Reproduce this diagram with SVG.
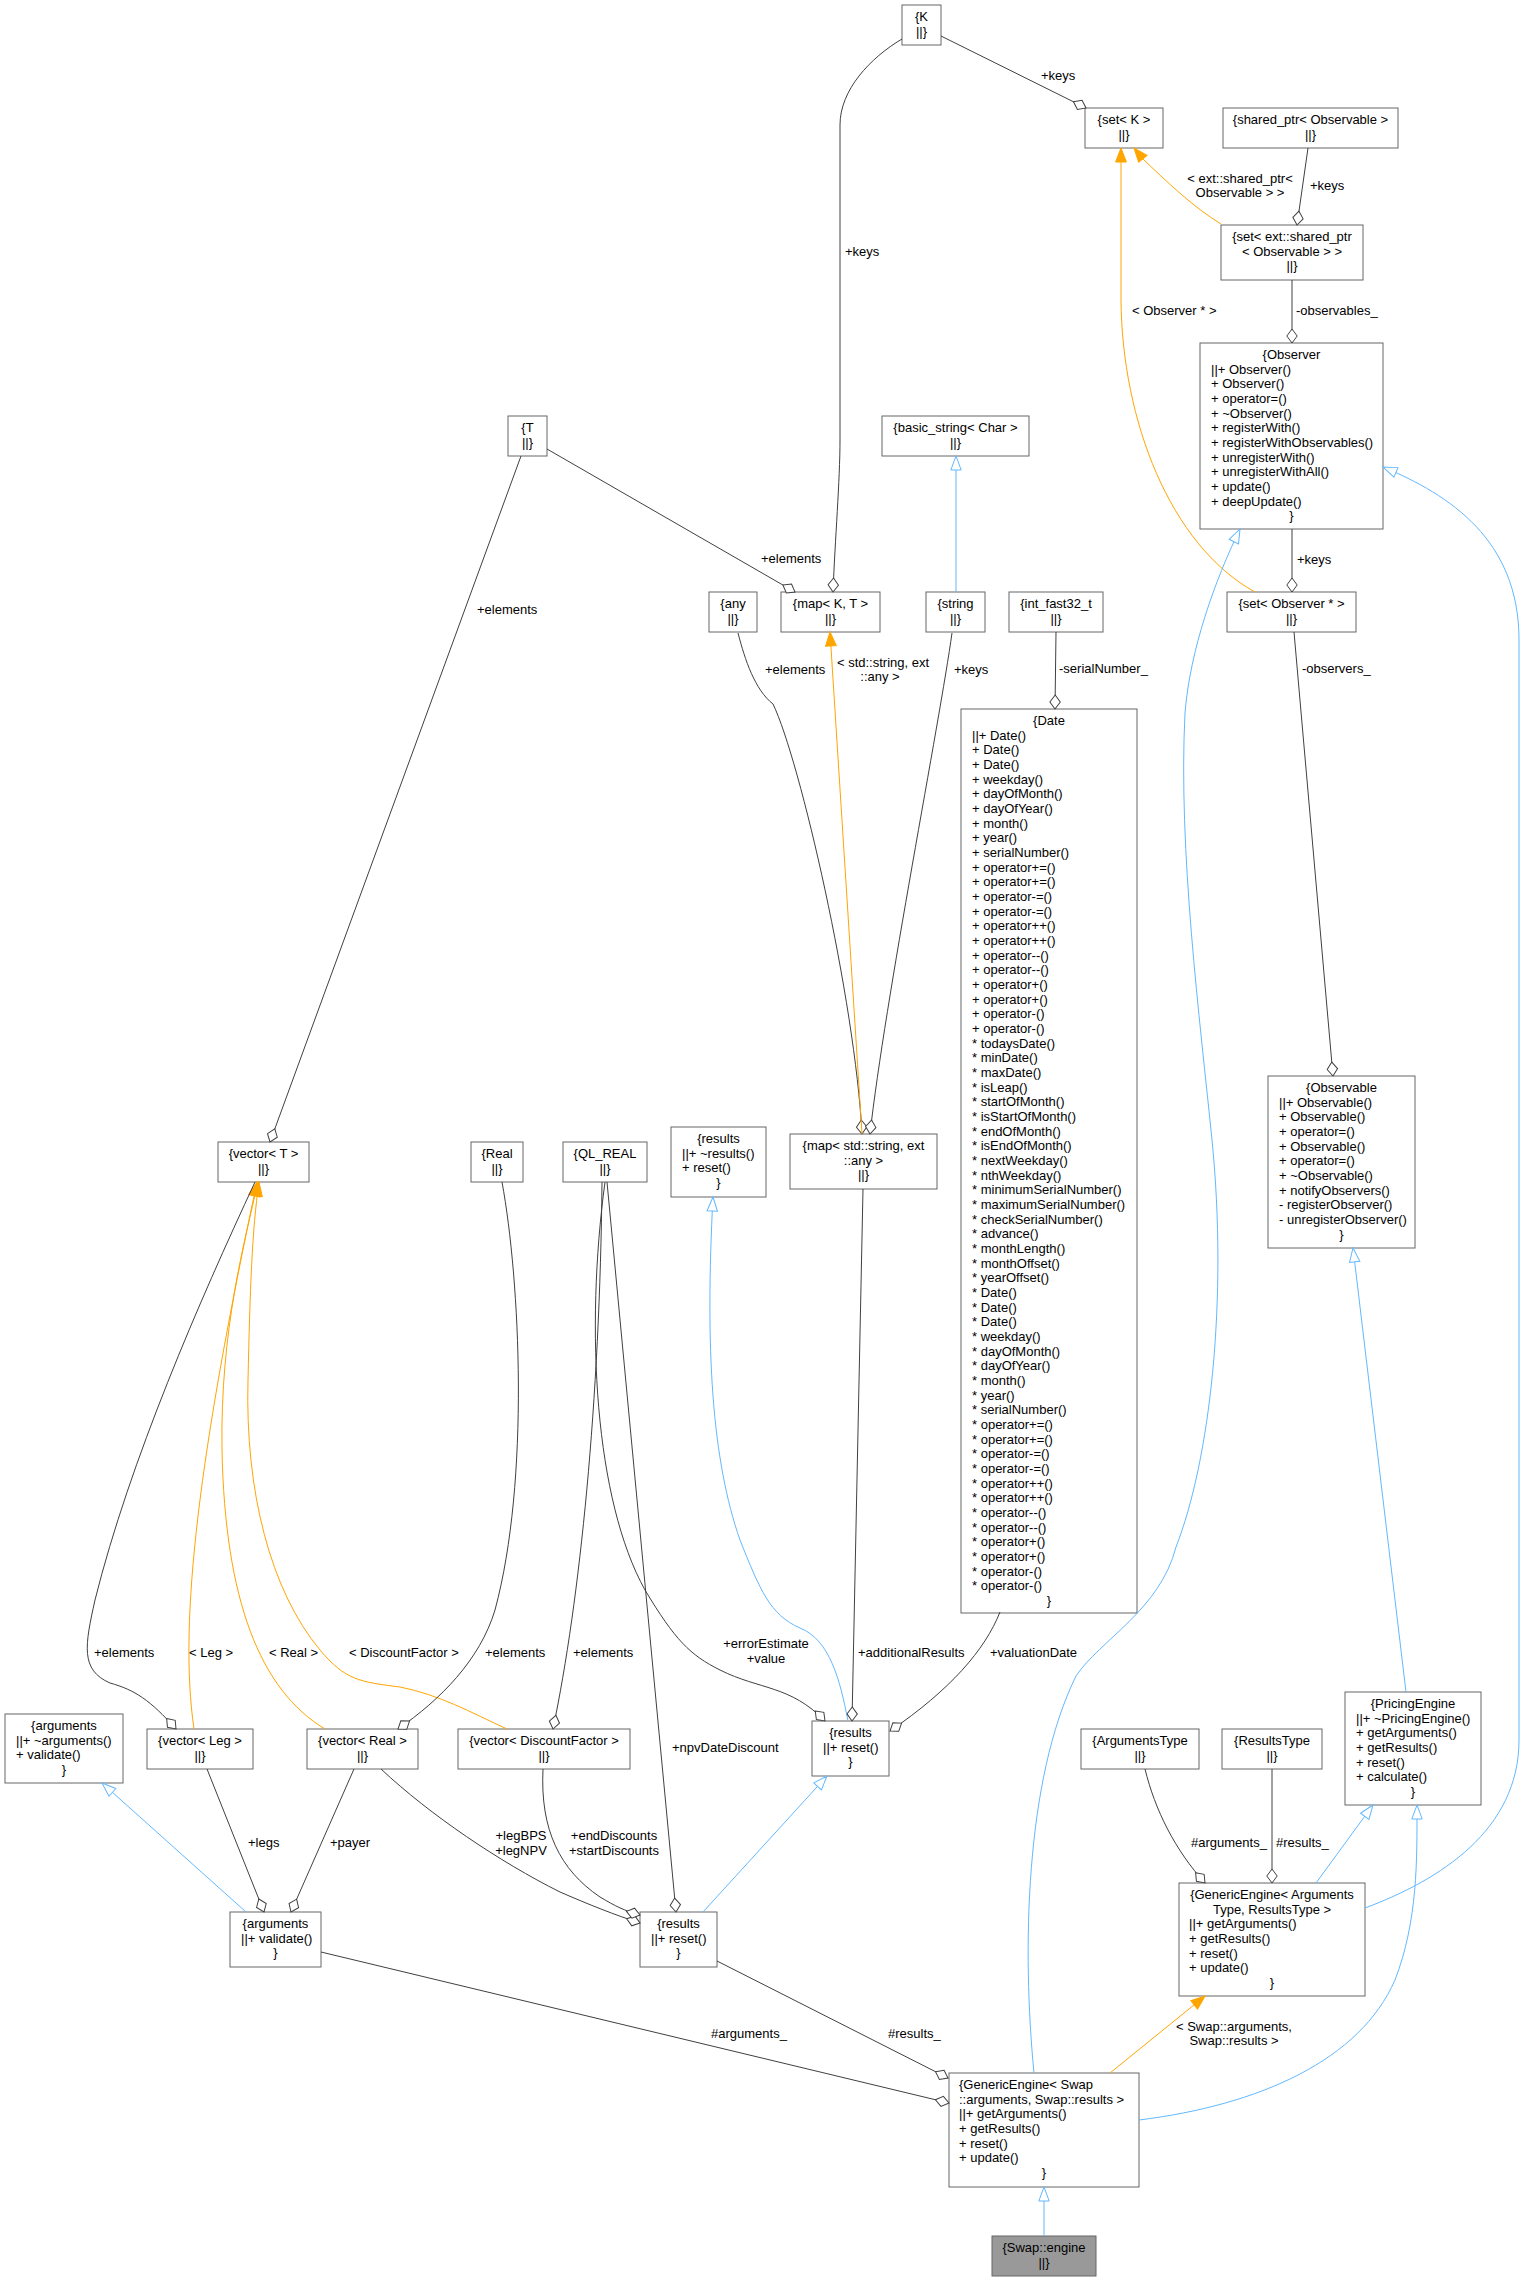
<svg xmlns="http://www.w3.org/2000/svg" width="1524" height="2281" viewBox="0 0 1524 2281">
<style>
.n rect{fill:#fff;stroke:#666;stroke-width:1}
text{font-family:"Liberation Sans",Arial,sans-serif;font-size:13px;fill:#000}
.c{text-anchor:middle}
.e{fill:none;stroke:#404040;stroke-width:1}
.b{fill:none;stroke:#63b8ff;stroke-width:1}
.o{fill:none;stroke:#ffa500;stroke-width:1}
.d{marker-end:url(#dia)}
.bi{marker-end:url(#inh)}
.oa{marker-end:url(#arr)}
</style>
<defs>
<marker id="dia" markerWidth="16" markerHeight="12" refX="15" refY="6" orient="auto" markerUnits="userSpaceOnUse" style="overflow:visible"><path d="M1,6 L8,0.8 L15,6 L8,11.2 Z" fill="#fff" stroke="#404040" stroke-width="1"/></marker>
<marker id="arr" markerWidth="15" markerHeight="12" refX="14" refY="6" orient="auto" markerUnits="userSpaceOnUse" style="overflow:visible"><path d="M0,0.6 L14,6 L0,11.4 Z" fill="#ffa500" stroke="#ffa500" stroke-width="1"/></marker>
<marker id="inh" markerWidth="15" markerHeight="12" refX="14" refY="6" orient="auto" markerUnits="userSpaceOnUse" style="overflow:visible"><path d="M0,0.8 L14,6 L0,11.2 Z" fill="#fff" stroke="#63b8ff" stroke-width="1"/></marker>
</defs>
<rect width="1524" height="2281" fill="#fff"/>
<g id="nodes">
<g id="n_K" class="n"><rect x="902" y="5" width="39" height="40"/><text class="c" x="921.5" y="21">{K</text><text class="c" x="921.5" y="35.7">||}</text></g>
<g id="n_setK" class="n"><rect x="1085" y="108" width="78" height="40"/><text class="c" x="1124" y="124">{set&lt; K &gt;</text><text class="c" x="1124" y="138.7">||}</text></g>
<g id="n_sharedptr" class="n"><rect x="1223" y="108" width="175" height="40"/><text class="c" x="1310.5" y="124">{shared_ptr&lt; Observable &gt;</text><text class="c" x="1310.5" y="138.7">||}</text></g>
<g id="n_setsp" class="n"><rect x="1221" y="225" width="142" height="55"/><text class="c" x="1292" y="241">{set&lt; ext::shared_ptr</text><text class="c" x="1292" y="255.7">&lt; Observable &gt; &gt;</text><text class="c" x="1292" y="270.3">||}</text></g>
<g id="n_Observer" class="n"><rect x="1200" y="343" width="183" height="186"/>
<text class="c" x="1291.5" y="359">{Observer</text>
<text x="1211" y="373.7">||+ Observer()</text>
<text x="1211" y="388.3">+ Observer()</text>
<text x="1211" y="403">+ operator=()</text>
<text x="1211" y="417.7">+ ~Observer()</text>
<text x="1211" y="432.3">+ registerWith()</text>
<text x="1211" y="447">+ registerWithObservables()</text>
<text x="1211" y="461.7">+ unregisterWith()</text>
<text x="1211" y="476.3">+ unregisterWithAll()</text>
<text x="1211" y="491">+ update()</text>
<text x="1211" y="505.7">+ deepUpdate()</text>
<text class="c" x="1291.5" y="520.4">}</text></g>
<g id="n_T" class="n"><rect x="508" y="416" width="39" height="40"/><text class="c" x="527.5" y="432">{T</text><text class="c" x="527.5" y="446.7">||}</text></g>
<g id="n_basicstring" class="n"><rect x="882" y="416" width="147" height="40"/><text class="c" x="955.5" y="432">{basic_string&lt; Char &gt;</text><text class="c" x="955.5" y="446.7">||}</text></g>
<g id="n_any" class="n"><rect x="709" y="592" width="48" height="40"/><text class="c" x="733" y="608">{any</text><text class="c" x="733" y="622.7">||}</text></g>
<g id="n_mapKT" class="n"><rect x="781" y="592" width="99" height="40"/><text class="c" x="830.5" y="608">{map&lt; K, T &gt;</text><text class="c" x="830.5" y="622.7">||}</text></g>
<g id="n_string" class="n"><rect x="926" y="592" width="59" height="40"/><text class="c" x="955.5" y="608">{string</text><text class="c" x="955.5" y="622.7">||}</text></g>
<g id="n_intfast" class="n"><rect x="1009" y="592" width="94" height="40"/><text class="c" x="1056" y="608">{int_fast32_t</text><text class="c" x="1056" y="622.7">||}</text></g>
<g id="n_setObs" class="n"><rect x="1227" y="592" width="129" height="40"/><text class="c" x="1291.5" y="608">{set&lt; Observer * &gt;</text><text class="c" x="1291.5" y="622.7">||}</text></g>
<g id="n_Date" class="n"><rect x="961" y="709" width="176" height="904"/>
<text class="c" x="1049" y="725">{Date</text>
<text x="972" y="739.7">||+ Date()</text>
<text x="972" y="754.3">+ Date()</text>
<text x="972" y="769">+ Date()</text>
<text x="972" y="783.7">+ weekday()</text>
<text x="972" y="798.4">+ dayOfMonth()</text>
<text x="972" y="813">+ dayOfYear()</text>
<text x="972" y="827.7">+ month()</text>
<text x="972" y="842.4">+ year()</text>
<text x="972" y="857">+ serialNumber()</text>
<text x="972" y="871.7">+ operator+=()</text>
<text x="972" y="886.4">+ operator+=()</text>
<text x="972" y="901">+ operator-=()</text>
<text x="972" y="915.7">+ operator-=()</text>
<text x="972" y="930.4">+ operator++()</text>
<text x="972" y="945">+ operator++()</text>
<text x="972" y="959.7">+ operator--()</text>
<text x="972" y="974.4">+ operator--()</text>
<text x="972" y="989">+ operator+()</text>
<text x="972" y="1003.7">+ operator+()</text>
<text x="972" y="1018.4">+ operator-()</text>
<text x="972" y="1033">+ operator-()</text>
<text x="972" y="1047.7">* todaysDate()</text>
<text x="972" y="1062.4">* minDate()</text>
<text x="972" y="1077">* maxDate()</text>
<text x="972" y="1091.7">* isLeap()</text>
<text x="972" y="1106.4">* startOfMonth()</text>
<text x="972" y="1121">* isStartOfMonth()</text>
<text x="972" y="1135.7">* endOfMonth()</text>
<text x="972" y="1150.4">* isEndOfMonth()</text>
<text x="972" y="1165">* nextWeekday()</text>
<text x="972" y="1179.7">* nthWeekday()</text>
<text x="972" y="1194.4">* minimumSerialNumber()</text>
<text x="972" y="1209">* maximumSerialNumber()</text>
<text x="972" y="1223.7">* checkSerialNumber()</text>
<text x="972" y="1238.4">* advance()</text>
<text x="972" y="1253">* monthLength()</text>
<text x="972" y="1267.7">* monthOffset()</text>
<text x="972" y="1282.4">* yearOffset()</text>
<text x="972" y="1297">* Date()</text>
<text x="972" y="1311.7">* Date()</text>
<text x="972" y="1326.4">* Date()</text>
<text x="972" y="1341">* weekday()</text>
<text x="972" y="1355.7">* dayOfMonth()</text>
<text x="972" y="1370.4">* dayOfYear()</text>
<text x="972" y="1385">* month()</text>
<text x="972" y="1399.7">* year()</text>
<text x="972" y="1414.4">* serialNumber()</text>
<text x="972" y="1429">* operator+=()</text>
<text x="972" y="1443.7">* operator+=()</text>
<text x="972" y="1458.4">* operator-=()</text>
<text x="972" y="1473">* operator-=()</text>
<text x="972" y="1487.7">* operator++()</text>
<text x="972" y="1502.4">* operator++()</text>
<text x="972" y="1517">* operator--()</text>
<text x="972" y="1531.7">* operator--()</text>
<text x="972" y="1546.4">* operator+()</text>
<text x="972" y="1561">* operator+()</text>
<text x="972" y="1575.7">* operator-()</text>
<text x="972" y="1590.4">* operator-()</text>
<text class="c" x="1049" y="1605">}</text></g>
<g id="n_Observable" class="n"><rect x="1268" y="1076" width="147" height="172"/>
<text class="c" x="1341.5" y="1092">{Observable</text>
<text x="1279" y="1106.7">||+ Observable()</text>
<text x="1279" y="1121.3">+ Observable()</text>
<text x="1279" y="1136">+ operator=()</text>
<text x="1279" y="1150.7">+ Observable()</text>
<text x="1279" y="1165.3">+ operator=()</text>
<text x="1279" y="1180">+ ~Observable()</text>
<text x="1279" y="1194.7">+ notifyObservers()</text>
<text x="1279" y="1209.3">- registerObserver()</text>
<text x="1279" y="1224">- unregisterObserver()</text>
<text class="c" x="1341.5" y="1238.7">}</text></g>
<g id="n_vectorT" class="n"><rect x="218" y="1142" width="91" height="40"/><text class="c" x="263.5" y="1158">{vector&lt; T &gt;</text><text class="c" x="263.5" y="1172.7">||}</text></g>
<g id="n_Real" class="n"><rect x="471" y="1142" width="52" height="40"/><text class="c" x="497" y="1158">{Real</text><text class="c" x="497" y="1172.7">||}</text></g>
<g id="n_QLREAL" class="n"><rect x="563" y="1142" width="84" height="40"/><text class="c" x="605" y="1158">{QL_REAL</text><text class="c" x="605" y="1172.7">||}</text></g>
<g id="n_resultsBase" class="n"><rect x="671" y="1127" width="95" height="70"/><text class="c" x="718.5" y="1143">{results</text><text x="682" y="1157.7">||+ ~results()</text><text x="682" y="1172.3">+ reset()</text><text class="c" x="718.5" y="1187">}</text></g>
<g id="n_mapSA" class="n"><rect x="790" y="1134" width="147" height="55"/><text class="c" x="863.5" y="1150">{map&lt; std::string, ext</text><text class="c" x="863.5" y="1164.7">::any &gt;</text><text class="c" x="863.5" y="1179.3">||}</text></g>
<g id="n_PricingEngine" class="n"><rect x="1345" y="1692" width="136" height="113"/>
<text class="c" x="1413" y="1708">{PricingEngine</text>
<text x="1356" y="1722.7">||+ ~PricingEngine()</text>
<text x="1356" y="1737.3">+ getArguments()</text>
<text x="1356" y="1752">+ getResults()</text>
<text x="1356" y="1766.7">+ reset()</text>
<text x="1356" y="1781.3">+ calculate()</text>
<text class="c" x="1413" y="1796">}</text></g>
<g id="n_argumentsBase" class="n"><rect x="5" y="1714" width="118" height="69"/><text class="c" x="64" y="1730">{arguments</text><text x="16" y="1744.7">||+ ~arguments()</text><text x="16" y="1759.3">+ validate()</text><text class="c" x="64" y="1774">}</text></g>
<g id="n_vectorLeg" class="n"><rect x="147" y="1729" width="106" height="40"/><text class="c" x="200" y="1745">{vector&lt; Leg &gt;</text><text class="c" x="200" y="1759.7">||}</text></g>
<g id="n_vectorReal" class="n"><rect x="307" y="1729" width="111" height="40"/><text class="c" x="362.5" y="1745">{vector&lt; Real &gt;</text><text class="c" x="362.5" y="1759.7">||}</text></g>
<g id="n_vectorDF" class="n"><rect x="458" y="1729" width="172" height="40"/><text class="c" x="544" y="1745">{vector&lt; DiscountFactor &gt;</text><text class="c" x="544" y="1759.7">||}</text></g>
<g id="n_resultsMid" class="n"><rect x="812" y="1721" width="77" height="55"/><text class="c" x="850.5" y="1737">{results</text><text x="823" y="1751.7">||+ reset()</text><text class="c" x="850.5" y="1766.3">}</text></g>
<g id="n_ArgumentsType" class="n"><rect x="1081" y="1729" width="118" height="40"/><text class="c" x="1140" y="1745">{ArgumentsType</text><text class="c" x="1140" y="1759.7">||}</text></g>
<g id="n_ResultsType" class="n"><rect x="1222" y="1729" width="100" height="40"/><text class="c" x="1272" y="1745">{ResultsType</text><text class="c" x="1272" y="1759.7">||}</text></g>
<g id="n_argumentsSwap" class="n"><rect x="230" y="1912" width="91" height="55"/><text class="c" x="275.5" y="1928">{arguments</text><text x="241" y="1942.7">||+ validate()</text><text class="c" x="275.5" y="1957.3">}</text></g>
<g id="n_resultsSwap" class="n"><rect x="640" y="1912" width="77" height="55"/><text class="c" x="678.5" y="1928">{results</text><text x="651" y="1942.7">||+ reset()</text><text class="c" x="678.5" y="1957.3">}</text></g>
<g id="n_GenericEngineT" class="n"><rect x="1179" y="1883" width="186" height="113"/>
<text class="c" x="1272" y="1899">{GenericEngine&lt; Arguments</text>
<text class="c" x="1272" y="1913.7">Type, ResultsType &gt;</text>
<text x="1189" y="1928.3">||+ getArguments()</text>
<text x="1189" y="1943">+ getResults()</text>
<text x="1189" y="1957.7">+ reset()</text>
<text x="1189" y="1972.3">+ update()</text>
<text class="c" x="1272" y="1987">}</text></g>
<g id="n_GenericEngineSwap" class="n"><rect x="949" y="2073" width="190" height="114"/>
<text x="959" y="2089">{GenericEngine&lt; Swap</text>
<text x="959" y="2103.7">::arguments, Swap::results &gt;</text>
<text x="959" y="2118.3">||+ getArguments()</text>
<text x="959" y="2133">+ getResults()</text>
<text x="959" y="2147.7">+ reset()</text>
<text x="959" y="2162.3">+ update()</text>
<text class="c" x="1044" y="2177">}</text></g>
<g id="n_SwapEngine" class="n"><rect x="992" y="2236" width="104" height="40" style="fill:#999"/><text class="c" x="1044" y="2252">{Swap::engine</text><text class="c" x="1044" y="2266.7">||}</text></g>
</g>
<g id="connectors">
<path class="e d" d="M902,39 C870,58 840,90 840,125 L840,440 C840,480 835,540 833,592"/>
<path class="e d" d="M941,36 L1086,108"/>
<path class="e d" d="M547,449 L795,592"/>
<path class="e d" d="M521,456 L270,1142"/>
<path class="b bi" d="M956,592 L956,456"/>
<path class="o oa" d="M1221,224 C1193,207 1166,181 1143,159 L1134,148"/>
<path class="o oa" d="M1255,592 C1170,545 1122,420 1121,300 L1121,148"/>
<path class="e d" d="M1308,148 L1297,225"/>
<path class="e d" d="M1292,280 L1292,343"/>
<path class="e d" d="M1292,529 L1292,592"/>
<path class="e d" d="M1294,632 L1333,1076"/>
<path class="e d" d="M738,633 C745,660 755,690 773,704 C800,760 855,1000 862,1134"/>
<path class="o oa" d="M862,1134 L830,632"/>
<path class="e d" d="M952,633 C940,720 885,1000 870,1134"/>
<path class="e d" d="M1056,632 L1055,709"/>
<path class="b bi" d="M1034,2073 C1022,1950 1025,1780 1076,1676 C1100,1640 1160,1610 1176,1547 C1210,1460 1228,1300 1212,1140 C1200,1020 1178,850 1185,713 C1190,650 1215,580 1240,529"/>
<path class="b bi" d="M1365,1908 C1440,1880 1519,1830 1519,1740 L1519,640 C1519,540 1450,495 1383,467"/>
<path class="b bi" d="M1406,1692 L1353,1248"/>
<path class="o oa" d="M194,1729 C178,1620 200,1450 257,1182"/>
<path class="o oa" d="M325,1729 C260,1690 225,1600 222,1450 C220,1330 245,1240 258,1182"/>
<path class="o oa" d="M507,1729 C470,1712 440,1695 400,1687 C360,1682 345,1680 320,1650 C270,1590 245,1490 248,1380 C250,1290 252,1230 259,1182"/>
<path class="e d" d="M255,1182 C200,1300 130,1460 95,1600 C85,1645 80,1670 110,1683 C135,1690 150,1700 176,1729"/>
<path class="e d" d="M502,1182 C520,1280 530,1480 495,1610 C480,1660 440,1700 398,1729"/>
<path class="e d" d="M602,1182 C600,1400 580,1600 553,1729"/>
<path class="e d" d="M605,1182 C585,1330 595,1500 645,1590 C675,1640 690,1655 720,1670 C760,1690 790,1685 825,1721"/>
<path class="e d" d="M607,1182 L676,1912"/>
<path class="b bi" d="M848,1721 C840,1680 830,1640 800,1628 C770,1615 760,1590 740,1540 C712,1460 705,1350 713,1197"/>
<path class="e d" d="M863,1189 L852,1721"/>
<path class="e d" d="M1000,1612 C985,1650 950,1690 890,1731"/>
<path class="b bi" d="M246,1912 L102,1783"/>
<path class="e d" d="M207,1769 L264,1912"/>
<path class="e d" d="M354,1769 L291,1912"/>
<path class="e d" d="M381,1769 C430,1815 500,1862 560,1892 C590,1905 615,1915 640,1923"/>
<path class="e d" d="M543,1769 C540,1830 560,1870 600,1897 C615,1906 625,1911 640,1915"/>
<path class="b bi" d="M703,1912 L827,1776"/>
<path class="e d" d="M321,1952 L949,2103"/>
<path class="e d" d="M717,1961 L948,2078"/>
<path class="e d" d="M1145,1769 C1155,1810 1175,1850 1205,1883"/>
<path class="e d" d="M1272,1769 L1272,1883"/>
<path class="b bi" d="M1316,1883 L1373,1805"/>
<path class="o oa" d="M1110,2073 L1205,1996"/>
<path class="b bi" d="M1139,2120 C1260,2105 1360,2060 1395,1980 C1418,1920 1417,1860 1417,1805"/>
<path class="b bi" d="M1044,2236 L1044,2187"/>
<g id="labels">
<text x="845" y="256">+keys</text>
<text x="1041" y="80">+keys</text>
<text x="761" y="563">+elements</text>
<text x="477" y="614">+elements</text>
<text class="c" x="1240" y="183">&lt; ext::shared_ptr&lt;</text>
<text class="c" x="1240" y="197">Observable &gt; &gt;</text>
<text x="1310" y="190">+keys</text>
<text x="1132" y="315">&lt; Observer * &gt;</text>
<text x="1296" y="315">-observables_</text>
<text x="1297" y="564">+keys</text>
<text x="765" y="674">+elements</text>
<text class="c" x="883" y="667">&lt; std::string, ext</text>
<text class="c" x="880" y="681">::any &gt;</text>
<text x="954" y="674">+keys</text>
<text x="1059" y="673">-serialNumber_</text>
<text x="1302" y="673">-observers_</text>
<text x="94" y="1657">+elements</text>
<text x="189" y="1657">&lt; Leg &gt;</text>
<text x="269" y="1657">&lt; Real &gt;</text>
<text x="349" y="1657">&lt; DiscountFactor &gt;</text>
<text x="485" y="1657">+elements</text>
<text x="573" y="1657">+elements</text>
<text class="c" x="766" y="1648">+errorEstimate</text>
<text class="c" x="766" y="1663">+value</text>
<text x="858" y="1657">+additionalResults</text>
<text x="990" y="1657">+valuationDate</text>
<text x="672" y="1752">+npvDateDiscount</text>
<text x="248" y="1847">+legs</text>
<text x="330" y="1847">+payer</text>
<text class="c" x="521" y="1840">+legBPS</text>
<text class="c" x="521" y="1855">+legNPV</text>
<text class="c" x="614" y="1840">+endDiscounts</text>
<text class="c" x="614" y="1855">+startDiscounts</text>
<text x="711" y="2038">#arguments_</text>
<text x="888" y="2038">#results_</text>
<text x="1191" y="1847">#arguments_</text>
<text x="1276" y="1847">#results_</text>
<text class="c" x="1234" y="2031">&lt; Swap::arguments,</text>
<text class="c" x="1234" y="2045">Swap::results &gt;</text>
</g>
</g>
</svg>
